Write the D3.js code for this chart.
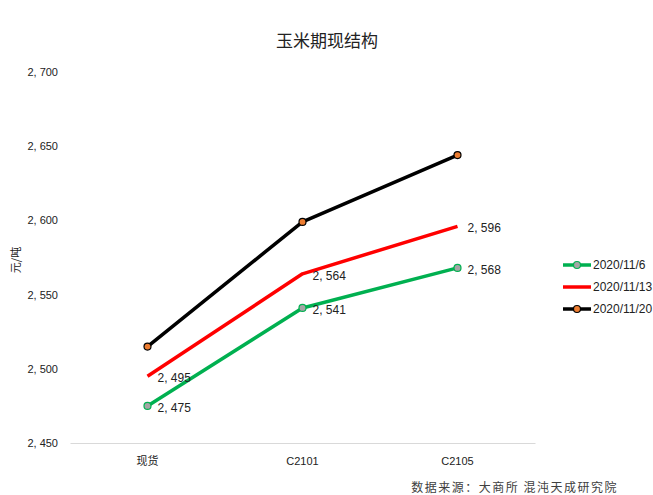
<!DOCTYPE html>
<html>
<head>
<meta charset="utf-8">
<script src="https://cdn.jsdelivr.net/npm/d3@7"></script>
<style>
body { margin: 0; background: #fff; }
svg text { font-family: "Liberation Sans Narrow", "Liberation Sans", Arial, sans-serif; fill: #404040; }
.cjk { font-family: "Noto Sans CJK SC", sans-serif; }
</style>
</head>
<body>
<svg width="653" height="495"></svg>
<script>
var categories = ["现货", "C2101", "C2105"];
var seriesNames = ["2020/11/6", "2020/11/13", "2020/11/20"];
var s1106 = [2475, 2541, 2568];
var s1113 = [2495, 2564, 2596];
var s1120 = [2515, 2599, 2644];
var yTicks = [2450, 2500, 2550, 2600, 2650, 2700];

var margin = {top: 72, left: 70, right: 118, bottom: 52};
var width = 653 - margin.left - margin.right,
    height = 495 - margin.top - margin.bottom;

var svg = d3.select("svg");
var g = svg.append("g")
  .attr("transform", "translate(" + margin.left + "," + margin.top + ")");

var x = d3.scaleBand().domain(categories).range([0, width]);
var y = d3.scaleLinear().domain([2450, 2700]).range([height, 0]);
var fmt = function(d) { return d3.format(",")(d).replace(",", ", "); };

// title
svg.append("text").attr("class", "cjk")
  .attr("x", 327).attr("y", 47)
  .attr("text-anchor", "middle")
  .style("font-size", "17px").style("fill", "#222")
  .text("玉米期现结构");

// y axis
var yAxis = d3.axisLeft(y).tickValues(yTicks).tickFormat(fmt).tickSize(0).tickPadding(12);
g.append("g").call(yAxis)
  .call(function(a) { a.select(".domain").remove(); })
  .selectAll("text").style("font-size", "11px").style("fill", "#222");

// x axis
var xAxis = d3.axisBottom(x).tickSize(0).tickPadding(14);
var xg = g.append("g").attr("transform", "translate(0," + height + ")").call(xAxis);
xg.select(".domain").attr("stroke", "#d9d9d9");
xg.selectAll("text").style("font-size", "11px").style("fill", "#222")
  .attr("class", function(d) { return d === "现货" ? "cjk" : null; });

svg.append("text").attr("class", "cjk")
  .attr("transform", "translate(20,260) rotate(-90)")
  .attr("text-anchor", "middle")
  .style("font-size", "11px").style("fill", "#222")
  .text("元/吨");

var series = [
  {name: seriesNames[0], values: s1106, color: "#00b050", marker: true, fill: "#a5a5a5"},
  {name: seriesNames[1], values: s1113, color: "#ff0000", marker: false},
  {name: seriesNames[2], values: s1120, color: "#000000", marker: true, fill: "#ed7d31"}
];

var line = d3.line()
  .x(function(d, i) { return x(categories[i]) + x.bandwidth() / 2; })
  .y(function(d) { return y(d); });

series.forEach(function(s) {
  g.append("path").datum(s.values)
    .attr("d", line).attr("fill", "none")
    .attr("stroke", s.color).attr("stroke-width", 3.5)
    .attr("stroke-linejoin", "round");
  if (s.marker) {
    g.selectAll(null).data(s.values).enter().append("circle")
      .attr("cx", function(d, i) { return x(categories[i]) + x.bandwidth() / 2; })
      .attr("cy", function(d) { return y(d); })
      .attr("r", 3.5)
      .attr("fill", s.fill)
      .attr("stroke", s.color).attr("stroke-width", 1.2);
  }
});

// data labels (green and red series)
[s1106, s1113].forEach(function(vals) {
  g.selectAll(null).data(vals).enter().append("text")
    .attr("x", function(d, i) { return x(categories[i]) + x.bandwidth() / 2 + 10; })
    .attr("y", function(d) { return y(d) + 6; })
    .style("font-size", "12px").style("fill", "#222")
    .text(fmt);
});

// legend
var legend = svg.append("g").attr("transform", "translate(563,265)");
series.forEach(function(s, i) {
  var row = legend.append("g").attr("transform", "translate(0," + (i * 22) + ")");
  row.append("line").attr("x1", 0).attr("x2", 28).attr("y1", 0).attr("y2", 0)
    .attr("stroke", s.color).attr("stroke-width", 3.5);
  if (s.marker) {
    row.append("circle").attr("cx", 14).attr("cy", 0).attr("r", 3.5)
      .attr("fill", s.fill).attr("stroke", s.color).attr("stroke-width", 1.2);
  }
  row.append("text").attr("x", 30).attr("y", 4)
    .style("font-size", "12px").style("fill", "#222")
    .text(s.name);
});

// source
svg.append("text").attr("class", "cjk")
  .attr("x", 618).attr("y", 492)
  .attr("text-anchor", "end")
  .style("font-size", "12px").style("fill", "#404040")
  .style("letter-spacing", "1.5px")
  .text("数据来源：大商所 混沌天成研究院");
</script>
</body>
</html>
